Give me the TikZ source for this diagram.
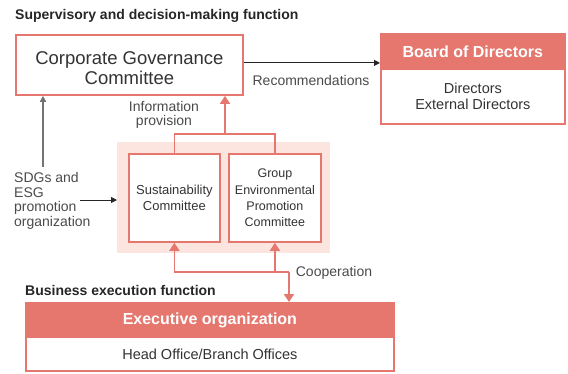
\documentclass[tikz,border=0pt]{standalone}
\usepackage{fontspec}
\setmainfont{Liberation Sans}
\usetikzlibrary{arrows.meta,calc}
\definecolor{salmon}{HTML}{E5776E}
\definecolor{pinkbg}{HTML}{FCE5DF}
\definecolor{txt}{HTML}{333333}
\definecolor{lbltxt}{HTML}{4A4A4A}
\tikzset{
 box/.style={draw=salmon, line width=1.8pt, fill=white, inner sep=0pt, anchor=north west, align=center, text=txt},
 headbox/.style={fill=salmon, draw=salmon, line width=1.8pt, inner sep=0pt, anchor=north west, align=center, text=white, font=\fontsize{16}{18}\selectfont\bfseries},
 lbl/.style={text=lbltxt, inner sep=0pt, align=center, font=\fontsize{14}{14.5}\selectfont},
 ttl/.style={text=black!85, inner sep=0pt, anchor=base west, font=\fontsize{14}{16}\selectfont\bfseries},
 sline/.style={draw=salmon, line width=1.8pt},
 sarrow/.style={sline, -{Triangle[length=8pt,width=10pt]}},
 karrow/.style={draw=black!85, line width=0.9pt, -{Triangle[length=6pt,width=6pt]}},
 garrow/.style={draw=black!55, line width=1.5pt, -{Triangle[length=6pt,width=6pt]}},
}
\begin{document}
\begin{tikzpicture}[x=1pt,y=-1pt]
\useasboundingbox (0,0) rectangle (568,373);
% titles
\node[ttl] (t1) at (15,19) {Supervisory and decision-making function};
\node[ttl] (t2) at (25,295) {Business execution function};
% CGC
\node[box, minimum width=227pt, minimum height=60pt, font=\fontsize{18.5}{20.5}\selectfont] (cgc) at (15,34) {\rule{0pt}{19.5pt}Corporate Governance\\Committee};
% Board
\node[headbox, minimum width=184pt, minimum height=35pt] (bhead) at (380,33) {Board of Directors};
\node[box, minimum width=184pt, minimum height=55pt, font=\fontsize{14.5}{16}\selectfont] (bbody) at (380,68) {Directors\\External Directors};
% group background
\node[fill=pinkbg, inner sep=0pt, anchor=north west, minimum width=213pt, minimum height=111pt] (grp) at (117,142) {};
\node[box, minimum width=91pt, minimum height=88pt, font=\fontsize{13}{16}\selectfont] (sus) at (128,153) {Sustainability\\Committee};
\node[box, minimum width=92pt, minimum height=88pt, font=\fontsize{12.5}{16.3}\selectfont] (gep) at (228,153) {Group\\Environmental\\Promotion\\Committee};
% Exec
\node[headbox, minimum width=368pt, minimum height=34pt] (exech) at (25,302) {Executive organization};
\node[box, minimum width=368pt, minimum height=34pt, font=\fontsize{14.5}{16}\selectfont] (execb) at (25,336) {Head Office/Branch Offices};
% labels
\node[lbl] (rec) at (311,80) {Recommendations};
\node[lbl] (info) at (164,115) {Information\\provision};
\node[lbl] (coop) at (334,273) {Cooperation};
\node[lbl, align=left, anchor=west] (sdg) at (14,201) {SDGs and\\ESG\\promotion\\organization};
% connectors
\coordinate (ce) at ($(cgc.east)+(0,-2)$);
\draw[karrow] (ce) -- (ce -| bhead.west);
\coordinate (j) at (225,134);
\draw[sline] (sus.north) |- (j) -| (gep.north);
\draw[sarrow] (j) -- (j |- cgc.south);
\coordinate (sdgtop) at (43,167);
\draw[garrow] (sdgtop) -- (sdgtop |- cgc.south);
\coordinate (sdgE) at (80,200);
\draw[karrow] (sdgE) -- (sdgE -| grp.west);
\coordinate (c) at (289,272);
\draw[sline] (sus.south |- c) -- (c);
\draw[sarrow] (sus.south |- c) -- (sus.south);
\draw[sarrow] (gep.south |- c) -- (gep.south);
\draw[sarrow] (c) -- (c |- exech.north);
\end{tikzpicture}
\end{document}
